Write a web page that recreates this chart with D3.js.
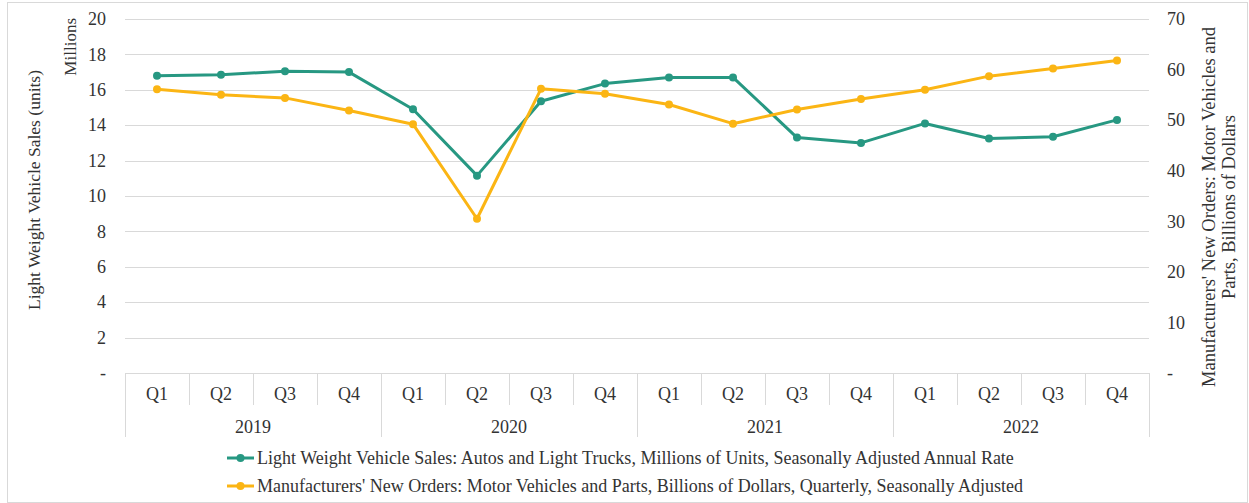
<!DOCTYPE html>
<html>
<head>
<meta charset="utf-8">
<script src="https://cdn.jsdelivr.net/npm/d3@7"></script>
<style>
  body { margin: 0; background: #fff; }
  svg text { font-family: "Liberation Serif", "DejaVu Serif", serif; fill: #333; }
</style>
</head>
<body>
<div class="main"></div>
<script>
// data
const years = ["2019", "2020", "2021", "2022"];
const quarters = ["Q1", "Q2", "Q3", "Q4"];
const salesValues = [16.8, 16.85, 17.05, 17.0, 14.9, 11.15, 15.35, 16.35, 16.7, 16.7, 13.3, 13.0, 14.1, 13.25, 13.35, 14.3];
const ordersValues = [56.1, 55.0, 54.4, 51.9, 49.2, 30.5, 56.2, 55.2, 53.1, 49.3, 52.1, 54.2, 56.0, 58.7, 60.2, 61.8];
const leftTicks = [0, 2, 4, 6, 8, 10, 12, 14, 16, 18, 20];
const rightTicks = [0, 10, 20, 30, 40, 50, 60, 70];
const seriesNames = [
    "Light Weight Vehicle Sales: Autos and Light Trucks, Millions of Units, Seasonally Adjusted Annual Rate",
    "Manufacturers' New Orders: Motor Vehicles and Parts, Billions of Dollars, Quarterly, Seasonally Adjusted"
];

let width = 1249;
let height = 503;
let plot = { left: 125, right: 1149, top: 19, bottom: 373 };
let green = "#279882";
let orange = "#fbb514";

let categories = [];
years.forEach(y => quarters.forEach(q => categories.push(y + "-" + q)));

let svg = d3.select(".main").append("svg")
    .attr("width", width)
    .attr("height", height);

// chart frame
svg.append("rect")
    .attr("x", 7.5).attr("y", 2.5)
    .attr("width", 1240).attr("height", 500)
    .attr("fill", "none")
    .attr("stroke", "#d9d9d9");

let x = d3.scaleBand().domain(categories).range([plot.left, plot.right]);
let yLeft = d3.scaleLinear().domain([0, 20]).range([plot.bottom, plot.top]);
let yRight = d3.scaleLinear().domain([0, 70]).range([plot.bottom, plot.top]);

// gridlines
svg.append("g").selectAll("line")
    .data(leftTicks.filter(d => d > 0))
    .enter().append("line")
    .attr("x1", plot.left).attr("x2", plot.right)
    .attr("y1", d => Math.round(yLeft(d)) + 0.5)
    .attr("y2", d => Math.round(yLeft(d)) + 0.5)
    .attr("stroke", "#d9d9d9")
    .attr("stroke-width", 1);

// left axis
let leftAxis = svg.append("g")
    .attr("transform", `translate(${plot.left - 19},0)`)
    .call(d3.axisLeft(yLeft).tickValues(leftTicks).tickSize(0).tickPadding(0)
        .tickFormat(d => d === 0 ? "-" : d));
leftAxis.select(".domain").remove();
leftAxis.selectAll("text").style("font-size", "18px").attr("fill", "#333");

// right axis
let rightAxis = svg.append("g")
    .attr("transform", `translate(${plot.right + 18},0)`)
    .call(d3.axisRight(yRight).tickValues(rightTicks).tickSize(0).tickPadding(0)
        .tickFormat(d => d === 0 ? "-" : d));
rightAxis.select(".domain").remove();
rightAxis.selectAll("text").style("font-size", "18px").attr("fill", "#333");

// axis titles
svg.append("text")
    .attr("transform", `translate(40,${(plot.top + plot.bottom) / 2 - 6}) rotate(-90)`)
    .attr("text-anchor", "middle")
    .style("font-size", "17.5px")
    .text("Light Weight Vehicle Sales (units)");

svg.append("text")
    .attr("transform", `translate(76,${plot.top - 1}) rotate(-90)`)
    .attr("text-anchor", "end")
    .style("font-size", "17px")
    .text("Millions");

let rightTitle = svg.append("text")
    .attr("transform", `translate(1215,207) rotate(-90)`)
    .attr("text-anchor", "middle")
    .style("font-size", "18.5px");
rightTitle.append("tspan").attr("x", 0).attr("dy", 0)
    .text("Manufacturers' New Orders: Motor Vehicles and");
rightTitle.append("tspan").attr("x", 0).attr("dy", 20)
    .text("Parts, Billions of Dollars");

// category axis (two levels)
let catTop = plot.bottom;
let catMid = 405;
let catBottom = 437;
let catAxis = svg.append("g");

catAxis.append("line")
    .attr("x1", plot.left).attr("x2", plot.right)
    .attr("y1", catTop + 0.5).attr("y2", catTop + 0.5)
    .attr("stroke", "#d9d9d9");

categories.forEach((c, i) => {
    let x0 = Math.round(x(c)) + 0.5;
    let isYearEdge = i % 4 === 0;
    catAxis.append("line")
        .attr("x1", x0).attr("x2", x0)
        .attr("y1", catTop).attr("y2", isYearEdge ? catBottom : catMid)
        .attr("stroke", "#d9d9d9");
});
catAxis.append("line")
    .attr("x1", plot.right + 0.5).attr("x2", plot.right + 0.5)
    .attr("y1", catTop).attr("y2", catBottom)
    .attr("stroke", "#d9d9d9");

catAxis.selectAll(".q-label")
    .data(categories)
    .enter().append("text")
    .attr("class", "q-label")
    .attr("x", d => x(d) + x.bandwidth() / 2)
    .attr("y", 400)
    .attr("text-anchor", "middle")
    .style("font-size", "18px")
    .text(d => d.split("-")[1]);

catAxis.selectAll(".y-label")
    .data(years)
    .enter().append("text")
    .attr("class", "y-label")
    .attr("x", d => (x(d + "-Q1") + x(d + "-Q4") + x.bandwidth()) / 2)
    .attr("y", 433)
    .attr("text-anchor", "middle")
    .style("font-size", "18px")
    .text(d => d);

// series lines
let series = [
    { values: salesValues, scale: yLeft, color: green },
    { values: ordersValues, scale: yRight, color: orange }
];

series.forEach(s => {
    let pts = s.values.map((v, i) => [x(categories[i]) + x.bandwidth() / 2, s.scale(v)]);
    svg.append("path")
        .attr("d", d3.line()(pts))
        .attr("fill", "none")
        .attr("stroke", s.color)
        .attr("stroke-width", 3)
        .attr("stroke-linejoin", "round");
    svg.append("g").selectAll("circle")
        .data(pts)
        .enter().append("circle")
        .attr("cx", d => d[0])
        .attr("cy", d => d[1])
        .attr("r", 4)
        .attr("fill", s.color);
});

// legend
let legend = svg.append("g");
seriesNames.forEach((name, i) => {
    let ly = 458 + i * 28;
    let color = i === 0 ? green : orange;
    legend.append("line")
        .attr("x1", 227).attr("x2", 254)
        .attr("y1", ly).attr("y2", ly)
        .attr("stroke", color).attr("stroke-width", 3);
    legend.append("circle")
        .attr("cx", 240.5).attr("cy", ly).attr("r", 4)
        .attr("fill", color);
    legend.append("text")
        .attr("x", 257)
        .attr("y", ly + 6)
        .style("font-size", "18px")
        .text(name);
});
</script>
</body>
</html>
